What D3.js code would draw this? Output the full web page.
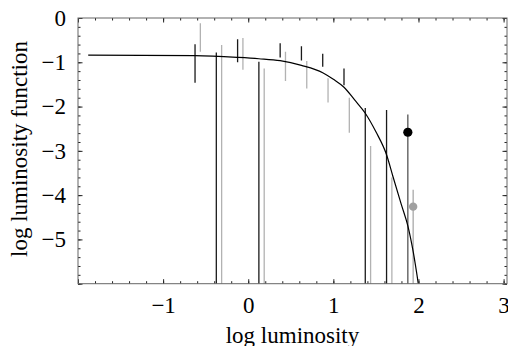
<!DOCTYPE html>
<html>
<head>
<meta charset="utf-8">
<script src="https://cdn.jsdelivr.net/npm/d3@7"></script>
<style>
    body { margin: 0; background: #fff; }
    text { font-family: "Liberation Serif", "DejaVu Serif", serif; fill: #000; }
</style>
</head>
<body>
<div id="chart"></div>
<script>
// bin centres of the two samples (log luminosity)
var darkX = [-0.625, -0.375, -0.125, 0.125, 0.375, 0.625, 0.875, 1.125, 1.375, 1.625];
var darkHi = [-0.59, -0.78, -0.48, -0.99, -0.57, -0.64, -0.81, -1.14, -2.03, -2.08];
var darkLo = [-1.46, null, -1.0, null, -0.89, -0.96, -1.10, -1.52, null, null];

var greyX = [-0.5625, -0.3125, -0.0625, 0.1875, 0.4375, 0.6875, 0.9375, 1.1875, 1.4375, 1.6875];
var greyHi = [-0.12, -0.61, -0.45, -1.14, -0.76, -0.97, -1.36, -1.80, -2.89, -3.60];
var greyLo = [-0.76, null, -1.17, null, -1.42, -1.59, -1.91, -2.59, null, null];

// the two points drawn with a dot
var dotX = [1.875, 1.9375];
var dotY = [-2.58, -4.26];
var dotHi = [-2.18, -3.88];
var dotLo = [null, null];

// fitted luminosity function
var fitX = [-1.88, -1.25, -0.625, -0.125, 0.125, 0.375, 0.625, 0.875, 1.0, 1.125, 1.25, 1.375, 1.5, 1.627, 1.7, 1.8, 1.876, 1.94, 1.998];
var fitY = [-0.84, -0.842, -0.85, -0.89, -0.92, -0.964, -1.07, -1.235, -1.385, -1.565, -1.85, -2.15, -2.57, -3.1, -3.58, -4.22, -4.7, -5.3, -6.0];

var xLabels = [-1, 0, 1, 2, 3];
var yLabels = [0, -1, -2, -3, -4, -5];

var W = 508, H = 346;
var padL = 78, padR = 507, padT = 18, padB = 283.7;

var x = d3.scaleLinear().domain([-2, 3.04]).range([padL, padR]);
var y = d3.scaleLinear().domain([-6, 0]).range([padB, padT]);

var svg = d3.select("#chart").append("svg")
    .attr("width", W)
    .attr("height", H);

svg.append("defs").append("clipPath").attr("id", "clip")
    .append("rect")
    .attr("x", padL).attr("y", padT)
    .attr("width", padR - padL).attr("height", padB - padT);

var plot = svg.append("g").attr("clip-path", "url(#clip)");

function bars(xs, hi, lo, colour) {
    plot.append("g").selectAll("line")
        .data(xs)
        .enter()
        .append("line")
        .attr("x1", function(d) { return x(d); })
        .attr("x2", function(d) { return x(d); })
        .attr("y1", function(d, i) { return y(hi[i]); })
        .attr("y2", function(d, i) { return lo[i] === null ? padB + 2 : y(lo[i]); })
        .attr("stroke", colour)
        .attr("stroke-width", 1.3);
}

bars(darkX, darkHi, darkLo, "#1a1a1a");
bars(greyX, greyHi, greyLo, "#b2b2b2");
bars(dotX.slice(0, 1), dotHi.slice(0, 1), dotLo.slice(0, 1), "#555");
bars(dotX.slice(1), dotHi.slice(1), dotLo.slice(1), "#a8a8a8");

var fit = fitX.map(function(d, i) { return [d, fitY[i]]; });
plot.append("path")
    .datum(fit)
    .attr("fill", "none")
    .attr("stroke", "#000")
    .attr("stroke-width", 1.2)
    .attr("d", d3.line()
        .x(function(d) { return x(d[0]); })
        .y(function(d) { return y(d[1]); })
        .curve(d3.curveMonotoneX));

plot.selectAll("circle")
    .data(dotX)
    .enter()
    .append("circle")
    .attr("cx", function(d) { return x(d); })
    .attr("cy", function(d, i) { return y(dotY[i]); })
    .attr("r", function(d, i) { return i === 0 ? 4.6 : 4.2; })
    .attr("fill", function(d, i) { return i === 0 ? "#000" : "#a0a0a0"; });

// frame ticks: minor every 0.2, major on integers
var xMinor = d3.range(-20, 31, 2).map(function(d) { return d / 10; });
var yMinor = d3.range(-60, 1, 2).map(function(d) { return d / 10; });
var xMajor = d3.range(-2, 4);
var yMajor = d3.range(-6, 1);

function tickAxis(axis, pos, vals, size) {
    var g = svg.append("g")
        .attr("transform", pos)
        .call(axis.tickValues(vals).tickSize(-size).tickFormat(""));
    g.select(".domain").remove();
    g.selectAll("line").attr("stroke", "#222").attr("stroke-width", 1);
    return g;
}

tickAxis(d3.axisBottom(x), "translate(0," + padB + ")", xMinor, 2.5);
tickAxis(d3.axisBottom(x), "translate(0," + padB + ")", xMajor, 4.5);
tickAxis(d3.axisTop(x), "translate(0," + padT + ")", xMinor, 2.5);
tickAxis(d3.axisTop(x), "translate(0," + padT + ")", xMajor, 4.5);
tickAxis(d3.axisLeft(y), "translate(" + padL + ",0)", yMinor, 2.5);
tickAxis(d3.axisLeft(y), "translate(" + padL + ",0)", yMajor, 4.5);
tickAxis(d3.axisRight(y), "translate(" + padR + ",0)", yMinor, 2.5);
tickAxis(d3.axisRight(y), "translate(" + padR + ",0)", yMajor, 4.5);

svg.append("rect")
    .attr("x", padL).attr("y", padT)
    .attr("width", padR - padL).attr("height", padB - padT)
    .attr("fill", "none")
    .attr("stroke", "#666")
    .attr("stroke-width", 1);

// labels
var fmt = function(d) { return d < 0 ? "\u2212" + Math.abs(d) : String(d); };

var xl = svg.append("g")
    .attr("transform", "translate(0," + padB + ")")
    .call(d3.axisBottom(x).tickValues(xLabels).tickSize(0).tickPadding(13).tickFormat(fmt));
xl.select(".domain").remove();
xl.selectAll("text").attr("font-size", 23).attr("font-family", "Liberation Serif");

var yl = svg.append("g")
    .attr("transform", "translate(" + padL + ",0)")
    .call(d3.axisLeft(y).tickValues(yLabels).tickSize(0).tickPadding(12).tickFormat(fmt));
yl.select(".domain").remove();
yl.selectAll("text").attr("font-size", 23).attr("font-family", "Liberation Serif");

svg.append("text")
    .attr("x", (padL + padR) / 2)
    .attr("y", 343)
    .attr("text-anchor", "middle")
    .attr("font-size", 23)
    .text("log luminosity");

svg.append("text")
    .attr("transform", "translate(27,149) rotate(-90)")
    .attr("text-anchor", "middle")
    .attr("font-size", 23)
    .text("log luminosity function");
</script>
</body>
</html>
